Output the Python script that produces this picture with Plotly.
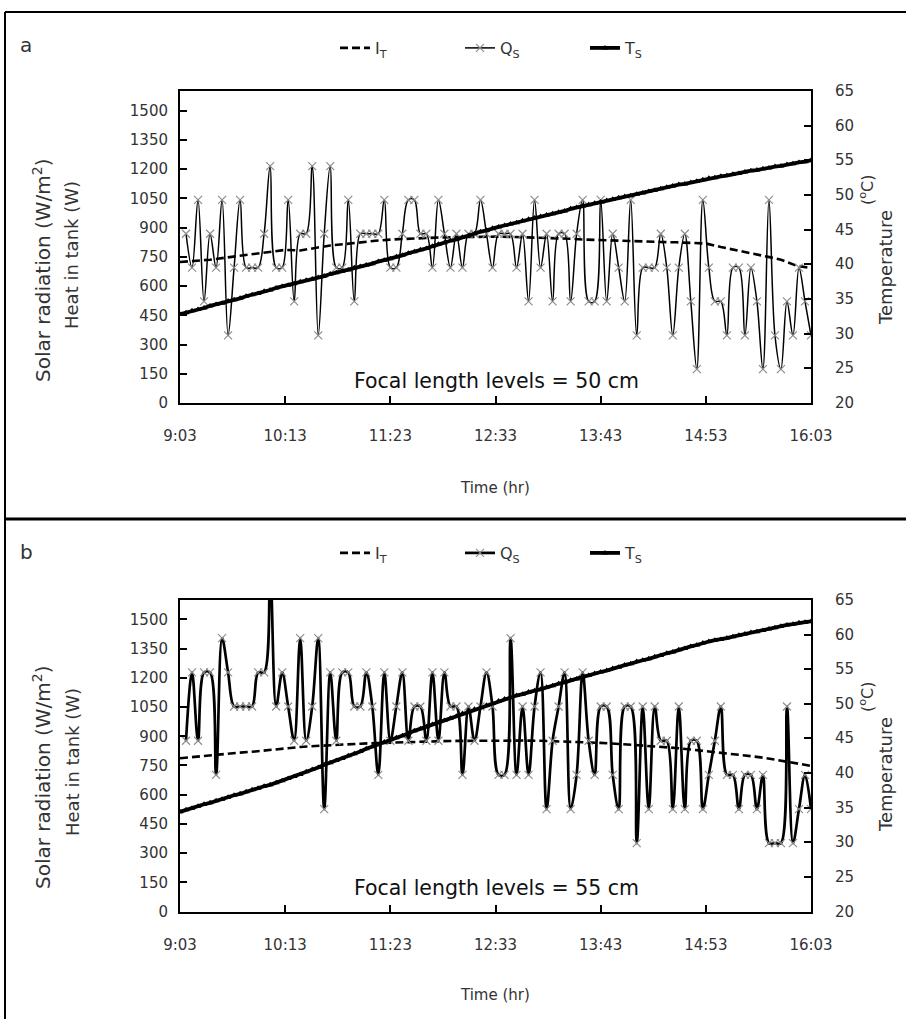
import plotly.graph_objects as go

W, H = 906, 1019

# ---------------- data ----------------
tick_min = [0, 70, 140, 210, 280, 350, 420]           # minutes after 9:03
tick_text = ["9:03", "10:13", "11:23", "12:33", "13:43", "14:53", "16:03"]
left_ticks = [0, 150, 300, 450, 600, 750, 900, 1050, 1200, 1350, 1500]
right_ticks = [20, 25, 30, 35, 40, 45, 50, 55, 60, 65]

qs_time = list(range(4, 421, 4))     # Q_S every 4 min from 9:07
ts_time = list(range(0, 421, 4))     # T_S every 4 min from 9:03
it_time = list(range(0, 421, 10))    # I_T every 10 min from 9:03

# panel a (focal length 50 cm)
qs_a = [868, 694, 1042, 521, 868, 694, 1042, 347, 694, 1042,
        694, 694, 694, 868, 1215, 694, 694, 1042, 521, 868,
        868, 1215, 347, 868, 1215, 694, 694, 1042, 521, 868,
        868, 868, 868, 1042, 694, 694, 868, 1042, 1042, 868,
        868, 694, 1042, 868, 694, 868, 694, 868, 868, 1042,
        868, 694, 868, 868, 868, 694, 868, 521, 1042, 694,
        868, 521, 868, 868, 521, 868, 1042, 521, 521, 1042,
        521, 868, 694, 521, 1042, 347, 694, 694, 694, 868,
        694, 347, 694, 868, 521, 174, 1042, 694, 521, 521,
        347, 694, 694, 347, 694, 521, 174, 1042, 347, 174,
        521, 347, 694, 521, 347]
ts_a = [32.8, 33.0, 33.3, 33.5, 33.7, 34.0, 34.2, 34.4, 34.7, 34.9,
        35.1, 35.4, 35.6, 35.8, 36.1, 36.3, 36.6, 36.8, 37.0, 37.2,
        37.5, 37.7, 37.9, 38.1, 38.3, 38.6, 38.8, 39.0, 39.2, 39.5,
        39.7, 39.9, 40.1, 40.4, 40.6, 40.8, 41.1, 41.3, 41.6, 41.8,
        42.1, 42.3, 42.6, 42.9, 43.1, 43.4, 43.6, 43.9, 44.1, 44.4,
        44.7, 44.9, 45.2, 45.4, 45.6, 45.8, 46.0, 46.3, 46.5, 46.7,
        46.9, 47.1, 47.3, 47.5, 47.7, 48.0, 48.2, 48.4, 48.6, 48.8,
        49.0, 49.2, 49.4, 49.6, 49.8, 49.9, 50.1, 50.3, 50.5, 50.7,
        50.9, 51.1, 51.3, 51.5, 51.6, 51.8, 52.0, 52.2, 52.4, 52.5,
        52.7, 52.8, 53.0, 53.1, 53.3, 53.5, 53.6, 53.8, 53.9, 54.1,
        54.2, 54.4, 54.5, 54.7, 54.8, 55.0]
it_a = [723, 728, 735, 745, 755, 768, 778, 785, 782, 795,
        808, 815, 825, 832, 838, 842, 845, 848, 850, 852,
        853, 853, 852, 850, 848, 845, 842, 838, 835, 832,
        830, 828, 826, 824, 822, 818, 800, 785, 770, 752,
        735, 705, 692]

# panel b (focal length 55 cm)
qs_b = [877, 1228, 877, 1228, 1228, 702, 1404, 1228, 1053, 1053,
        1053, 1053, 1228, 1228, 1755, 1053, 1228, 1053, 877, 1404,
        877, 1053, 1404, 526, 1228, 877, 1228, 1228, 1053, 1053,
        1228, 1053, 702, 1228, 877, 1053, 1228, 877, 1053, 1053,
        877, 1228, 877, 1228, 1053, 1053, 702, 1053, 877, 1053,
        1228, 1053, 702, 702, 1404, 702, 1053, 702, 1053, 1228,
        526, 877, 1053, 1228, 526, 702, 1228, 877, 702, 1053,
        1053, 702, 526, 1053, 1053, 351, 1053, 526, 1053, 877,
        877, 526, 1053, 526, 877, 877, 526, 702, 877, 1053,
        702, 702, 526, 702, 702, 526, 702, 351, 351, 351,
        1053, 351, 526, 702, 526]
ts_b = [34.4, 34.7, 34.9, 35.2, 35.5, 35.7, 36.0, 36.2, 36.5, 36.8,
        37.0, 37.3, 37.6, 37.8, 38.1, 38.3, 38.6, 38.9, 39.2, 39.5,
        39.8, 40.2, 40.5, 40.8, 41.2, 41.5, 41.8, 42.1, 42.5, 42.8,
        43.1, 43.5, 43.8, 44.1, 44.5, 44.8, 45.1, 45.4, 45.7, 46.1,
        46.4, 46.7, 47.0, 47.3, 47.6, 47.9, 48.2, 48.6, 48.9, 49.2,
        49.5, 49.8, 50.1, 50.4, 50.7, 50.9, 51.2, 51.4, 51.7, 51.9,
        52.1, 52.4, 52.6, 52.9, 53.1, 53.4, 53.6, 53.9, 54.1, 54.4,
        54.6, 54.8, 55.1, 55.3, 55.6, 55.8, 56.1, 56.3, 56.5, 56.8,
        57.0, 57.3, 57.5, 57.8, 58.0, 58.3, 58.5, 58.8, 59.0, 59.2,
        59.3, 59.5, 59.7, 59.9, 60.1, 60.3, 60.4, 60.6, 60.8, 61.0,
        61.2, 61.4, 61.5, 61.7, 61.8, 61.9]
it_b = [787, 795, 803, 810, 816, 822, 830, 838, 845, 850,
        855, 858, 862, 865, 868, 870, 872, 874, 876, 877,
        878, 879, 879, 878, 877, 875, 873, 870, 866, 862,
        857, 852, 846, 840, 832, 824, 816, 808, 798, 788,
        775, 762, 748]

# ---------------- helpers ----------------
def px(x):
    return x / W

def py(y):
    return 1 - y / H

FONT = "DejaVu Sans"
TXT = "#333333"

fig = go.Figure()

panels = [
    dict(xa="x", ya="y", ya2="y2", legend="legend", qs=qs_a, ts=ts_a, it=it_a, qw=1.5),
    dict(xa="x2", ya="y3", ya2="y4", legend="legend2", qs=qs_b, ts=ts_b, it=it_b, qw=2.7),
]

for p in panels:
    fig.add_trace(go.Scatter(
        x=it_time, y=p["it"], xaxis=p["xa"], yaxis=p["ya"], mode="lines",
        name="I<sub>T</sub>", legend=p["legend"],
        line=dict(color="black", width=2.6, dash="8px,4px")))
    fig.add_trace(go.Scatter(
        x=qs_time, y=p["qs"], xaxis=p["xa"], yaxis=p["ya"], mode="lines+markers",
        name="Q<sub>S</sub>", legend=p["legend"],
        line=dict(color="black", width=p["qw"], shape="spline", smoothing=1.0),
        marker=dict(symbol="x-thin", size=8, color="#8a8a8a",
                    line=dict(width=1.1, color="#8a8a8a"))))
    fig.add_trace(go.Scatter(
        x=ts_time, y=p["ts"], xaxis=p["xa"], yaxis=p["ya2"], mode="lines+markers",
        name="T<sub>S</sub>", legend=p["legend"],
        line=dict(color="black", width=3.8),
        marker=dict(symbol="triangle-up", size=6, color="black")))

xdom = [px(180), px(811)]
ydom_a = [py(403), py(91)]
ydom_b = [py(911.5), py(600)]

xcommon = dict(range=[0, 420], tickvals=tick_min, ticktext=tick_text,
               ticks="inside", ticklen=7, tickwidth=1.5, tickcolor="black",
               showline=True, linecolor="black", linewidth=2, mirror=True,
               showgrid=False, zeroline=False, domain=xdom, automargin=False,
               tickfont=dict(family=FONT, size=15, color=TXT),
               ticklabelstandoff=18)
ycommon = dict(range=[0, 1600], tickvals=left_ticks,
               ticks="inside", ticklen=7, tickwidth=1.5, tickcolor="black",
               showline=True, linecolor="black", linewidth=2, mirror=True,
               showgrid=False, zeroline=False, automargin=False,
               tickfont=dict(family=FONT, size=15, color=TXT),
               ticklabelstandoff=7)
y2common = dict(range=[20, 65], tickvals=right_ticks, side="right",
                ticks="inside", ticklen=7, tickwidth=1.5, tickcolor="black",
                showline=True, linecolor="black", linewidth=2,
                showgrid=False, zeroline=False, automargin=False,
                showticklabels=False)

legend_common = dict(orientation="h", xanchor="left", yanchor="middle",
                     entrywidth=80, font=dict(family=FONT, size=16, color=TXT),
                     bgcolor="rgba(0,0,0,0)")

fig.update_layout(
    template="none",
    width=W, height=H, autosize=False,
    margin=dict(l=0, r=0, t=0, b=0, pad=0),
    paper_bgcolor="white", plot_bgcolor="white",
    xaxis=dict(**xcommon, anchor="y"),
    yaxis=dict(**ycommon, domain=ydom_a, anchor="x"),
    yaxis2=dict(**y2common, overlaying="y", anchor="x"),
    xaxis2=dict(**xcommon, anchor="y3"),
    yaxis3=dict(**ycommon, domain=ydom_b, anchor="x2"),
    yaxis4=dict(**y2common, overlaying="y3", anchor="x2"),
    legend=dict(**legend_common, x=px(335), y=py(48)),
    legend2=dict(**legend_common, x=px(335), y=py(553)),
    showlegend=True,
)

ann = []
def text(x, y, s, size=16, angle=0, anchor="center", color=TXT, yref="paper"):
    ann.append(dict(x=px(x), y=(py(y) if yref == "paper" else y), xref="paper", yref=yref,
                    text=s, showarrow=False, textangle=angle, xanchor=anchor,
                    yanchor="middle", font=dict(family=FONT, size=size, color=color)))

# right-hand temperature tick labels, placed on the temperature axes
for yref in ["y2", "y4"]:
    for v in right_ticks:
        text(833, v, str(v), size=15, anchor="left", yref=yref)

for off, lab, focal in [(0, "a", "50"), (507, "b", "55")]:
    text(26, 45 + off, lab, size=20)
    text(496, 381 + off, "Focal length levels = " + focal + " cm", size=20.5, color="#111111")
    text(495, 488 + off, "Time (hr)", size=15)
    text(42, 270 + off, "Solar radiation (W/m<sup>2</sup>)", size=20, angle=-90)
    text(72, 255 + off, "Heat in tank (W)", size=18, angle=-90)
    text(885, 268 + off, "Temperature", size=18, angle=-90)
    text(866, 190 + off, "(<sup>o</sup>C)", size=16, angle=-90)

fig.update_layout(annotations=ann)

shapes = [
    dict(type="line", xref="paper", yref="paper", x0=px(5), x1=1, y0=py(12), y1=py(12),
         line=dict(color="black", width=2)),
    dict(type="line", xref="paper", yref="paper", x0=px(5), x1=px(5), y0=py(12), y1=0,
         line=dict(color="black", width=2)),
    dict(type="line", xref="paper", yref="paper", x0=px(5), x1=1, y0=py(519), y1=py(519),
         line=dict(color="black", width=3)),
]
fig.update_layout(shapes=shapes)

fig.write_html("out.html", config={"responsive": False, "displayModeBar": False},
               post_script="document.body.style.margin='0';document.body.style.padding='0';")
